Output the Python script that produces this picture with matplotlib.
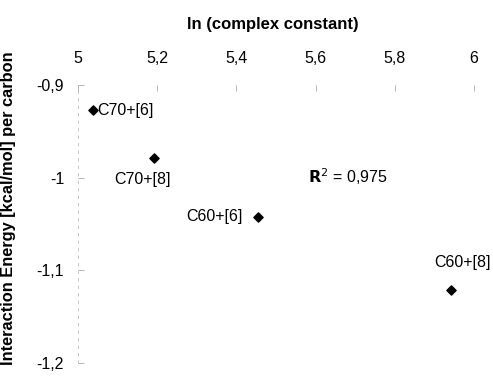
import matplotlib.pyplot as plt
from matplotlib.ticker import FuncFormatter

plt.rcParams['font.family'] = ['Liberation Sans', 'DejaVu Sans']

# data
labels = ['C70+[6]', 'C70+[8]', 'C60+[6]', 'C60+[8]']
ln_k = [5.038, 5.192, 5.455, 5.942]
energy = [-0.927, -0.979, -1.042, -1.121]
r2_text = '0,975'

xticks = [5, 5.2, 5.4, 5.6, 5.8, 6]
yticks = [-0.9, -1.0, -1.1, -1.2]

W, H = 493, 377
fig = plt.figure(figsize=(W / 100, H / 100), dpi=100)
ax = fig.add_axes([78 / W, 1 - 363 / H, 396 / W, 278 / H])

ax.scatter(ln_k, energy, marker='D', s=22, color='black', zorder=3)

# point labels (offsets in points)
offsets = [(3, 0, 'left', 'center'), (-8.5, -15, 'center', 'center'),
           (-11, 0, 'right', 'center'), (8.5, 20, 'center', 'center')]
for lab, x, y, (dx, dy, ha, va) in zip(labels, ln_k, energy, offsets):
    ax.annotate(lab, (x, y), xytext=(dx, dy), textcoords='offset points',
                ha=ha, va=va, fontsize=11.5)

ax.text(5.582, -0.999, r'$\mathbf{R}^2$ = ' + r2_text, ha='left', va='center', fontsize=11.5)

ax.set_xlim(5, 6)
ax.set_ylim(-1.2, -0.9)
ax.set_xticks(xticks)
ax.set_yticks(yticks)
comma = FuncFormatter(lambda v, p: ('%g' % round(v, 2)).replace('.', ','))
ax.xaxis.set_major_formatter(comma)
ax.yaxis.set_major_formatter(comma)
ax.xaxis.tick_top()
ax.tick_params(axis='both', direction='in', length=4, width=0.6, color='#aaaaaa',
               labelsize=11.5)
ax.tick_params(axis='x', pad=14)
ax.tick_params(axis='y', pad=10)

for s in ['right', 'bottom', 'top']:
    ax.spines[s].set_visible(False)
ax.spines['left'].set_color('#bbbbbb')
ax.spines['left'].set_linestyle((0, (3, 6)))
ax.spines['left'].set_linewidth(0.6)

fig.text(273 / W, 1 - 24 / H, 'ln (complex constant)', fontweight='bold',
         fontsize=12, ha='center', va='center')
fig.text(9 / W, 1 - 208 / H, 'Interaction Energy [kcal/mol] per carbon', fontweight='bold',
         fontsize=11.8, ha='center', va='center', rotation=90)

fig.savefig('out.png', dpi=100)
